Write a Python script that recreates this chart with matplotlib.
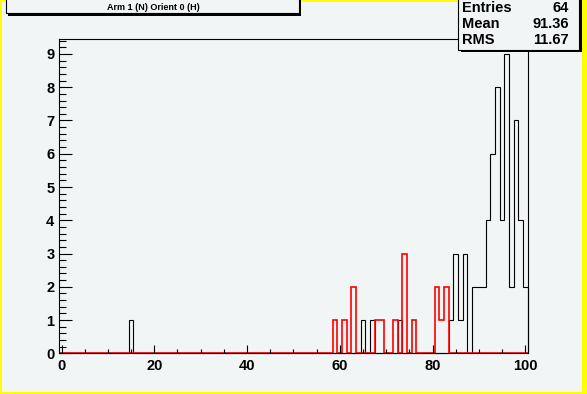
import numpy as np
import matplotlib
matplotlib.use('Agg')
import matplotlib.pyplot as plt
from matplotlib.patches import Rectangle
from matplotlib.ticker import MultipleLocator

# histogram contents (bin centre -> count), bins of width 1 from -0.5 to 100.5
black_bins = [15, 65, 67, 73, 84, 85, 86, 87, 89, 90, 91, 92, 93, 94, 95, 96, 97, 98, 99, 100]
black_counts = [1, 1, 1, 1, 1, 3, 1, 3, 2, 2, 2, 4, 6, 8, 4, 9, 2, 7, 4, 2]
red_bins = [59, 61, 63, 68, 69, 72, 74, 76, 81, 82, 83]
red_counts = [1, 1, 2, 1, 1, 1, 3, 1, 2, 1, 2]

title = 'Arm 1 (N) Orient 0 (H)'
stat_names = ['Entries', 'Mean', 'RMS']
stat_values = ['64', '91.36', '11.67']

W, H = 587, 394
bg = '#f2f5f6'
font = 'Liberation Sans'

edges = np.arange(-0.5, 101.0, 1.0)
black = np.zeros(len(edges) - 1)
red = np.zeros(len(edges) - 1)
for b, c in zip(black_bins, black_counts):
    black[b] = c
for b, c in zip(red_bins, red_counts):
    red[b] = c

# pixel helpers
def fx(x):
    return x / W

def fy(y):
    return 1 - y / H

fig = plt.figure(figsize=(W / 100, H / 100), dpi=100)
fig.patch.set_facecolor('#ffff00')
fig.add_artist(Rectangle((fx(2), fy(392)), fx(580), 390 / H, transform=fig.transFigure,
                         facecolor=bg, edgecolor='none', zorder=0))

ax = fig.add_axes([fx(59.2), fy(353.3), (527.6 - 59.2) / W, (353.3 - 39) / H])
ax.set_facecolor(bg)
ax.stairs(black, edges, color='black', lw=0.8, clip_on=False)
ax.stairs(red, edges, color='red', lw=1.2, clip_on=False)

ax.set_xlim(-0.5, 100.5)
ax.set_ylim(0, 9.45)
ax.xaxis.set_major_locator(MultipleLocator(20))
ax.xaxis.set_minor_locator(MultipleLocator(5))
ax.yaxis.set_major_locator(MultipleLocator(1))
ax.yaxis.set_minor_locator(MultipleLocator(0.2))
ax.tick_params(axis='both', which='both', direction='in', top=False, right=False,
               width=0.8, labelsize=10.5)
ax.tick_params(axis='x', which='major', length=6.1, pad=4)
ax.tick_params(axis='x', which='minor', length=3.1)
ax.tick_params(axis='y', which='major', length=9.4, pad=3.5)
ax.tick_params(axis='y', which='minor', length=5)
for lab in ax.get_xticklabels() + ax.get_yticklabels():
    lab.set_fontfamily(font)
    lab.set_fontweight('bold')
for s in ax.spines.values():
    s.set_linewidth(0.8)

# title box with shadow
fig.add_artist(Rectangle((fx(8), fy(15.5)), fx(293), 25 / H, transform=fig.transFigure,
                         facecolor='black', edgecolor='none', zorder=5))
fig.add_artist(Rectangle((fx(5.5), fy(13)), fx(293), 25 / H, transform=fig.transFigure,
                         facecolor=bg, edgecolor='black', lw=0.8, zorder=6))
fig.text(fx(153), fy(7.5), title, ha='center', va='center', fontsize=6.5,
         fontweight='bold', family=font, zorder=7)

# stats box with shadow
fig.add_artist(Rectangle((fx(460.5), fy(52)), fx(121), 60 / H, transform=fig.transFigure,
                         facecolor='black', edgecolor='none', zorder=5))
fig.add_artist(Rectangle((fx(457.5), fy(49.5)), fx(121), 60 / H, transform=fig.transFigure,
                         facecolor=bg, edgecolor='black', lw=0.8, zorder=6))
for i, (name, val) in enumerate(zip(stat_names, stat_values)):
    yy = 8.5 + 16 * i
    fig.text(fx(462), fy(yy), name, ha='left', va='center', fontsize=10.5,
             fontweight='bold', family=font, zorder=7)
    fig.text(fx(569), fy(yy), val, ha='right', va='center', fontsize=10.5,
             fontweight='bold', family=font, zorder=7)

fig.savefig('out.png', dpi=100, facecolor=fig.get_facecolor())
